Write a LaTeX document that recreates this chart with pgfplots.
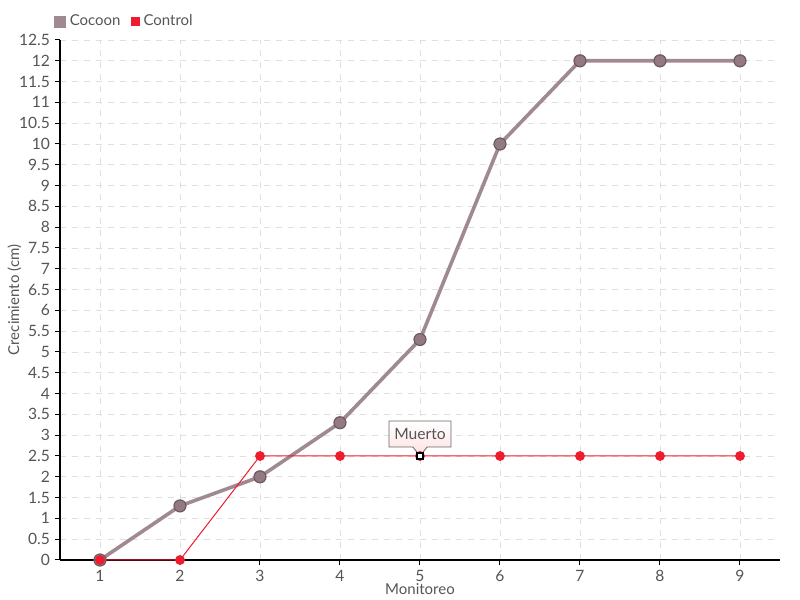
\documentclass[border=0pt]{standalone}
\usepackage{pgfplots}
\pgfplotsset{compat=1.18}
\usepackage{fontspec}
\setmainfont{Lato}
\usetikzlibrary{shapes.callouts,shadings}
\definecolor{coc}{HTML}{A08A90}
\definecolor{cocm}{HTML}{927A80}
\definecolor{cocd}{HTML}{6E5A60}
\definecolor{ctl}{HTML}{EE1C2E}
\definecolor{txt}{HTML}{555555}
\begin{document}
\begin{tikzpicture}
\path[use as bounding box] (-30pt,-20pt) rectangle (370pt,280pt);
\begin{axis}[
  scale only axis,
  width=360pt, height=260pt,
  xmin=0.5, xmax=9.5, ymin=0, ymax=12.5,
  xtick={1,...,9},
  ytick={0,0.5,...,12.5},
  yticklabels={0,0.5,1,1.5,2,2.5,3,3.5,4,4.5,5,5.5,6,6.5,7,7.5,8,8.5,9,9.5,10,10.5,11,11.5,12,12.5},
  axis lines*=left,
  axis line style={black, line width=0.6pt, -},
  tick style={black, line width=0.5pt},
  tick align=outside,
  major tick length=2.5pt,
  grid=major,
  grid style={dashed, gray!25, line width=0.4pt},
  tick label style={font=\fontsize{7.8}{9}\selectfont, text=txt},
  /pgf/number format/assume math mode=true,
  xlabel={Monitoreo},
  ylabel={Crecimiento (cm)},
  label style={font=\fontsize{7.5}{8}\selectfont, text=txt},
  xlabel style={yshift=6pt},
  ylabel style={yshift=-8pt},
  xticklabel style={yshift=1pt},
  yticklabel style={xshift=1pt},
  legend style={at={(-0.017,1.035)}, anchor=west, draw=none, fill=none,
    font=\fontsize{7.5}{8}\selectfont, text=txt, legend columns=2,
    /tikz/every even column/.append style={column sep=3pt}},
  legend image code/.code={\fill[#1] (0pt,-2pt) rectangle (4pt,2pt);},
  legend cell align=left,
  clip=false,
]
\addplot[coc, line width=1.8pt, mark=*, mark size=3pt,
  mark options={fill=cocm, draw=cocd, line width=0.6pt}]
  coordinates {(1,0) (2,1.3) (3,2.0) (4,3.3) (5,5.3) (6,10) (7,12) (8,12) (9,12)};
\addlegendentry{Cocoon}
\addplot[ctl, line width=0.5pt, mark=*, mark size=2.2pt,
  mark options={fill=ctl, draw=ctl}]
  coordinates {(1,0) (2,0) (3,2.5) (4,2.5) (5,2.5) (6,2.5) (7,2.5) (8,2.5) (9,2.5)};
\addlegendentry{Control}
\addplot[draw=none, mark=square*, mark size=1.5pt,
  mark options={fill=white, draw=black, line width=0.6pt}, forget plot]
  coordinates {(5,2.5)};
\node[rectangle callout, draw=gray!80!black, line width=0.4pt,
  top color=white, bottom color=red!12, callout absolute pointer={(axis cs:5,2.5)},
  minimum width=31pt, minimum height=13pt, inner sep=2pt,
  font=\fontsize{7.8}{8}\selectfont, text=txt] at ([yshift=11pt]axis cs:5,2.5) {Muerto};
\end{axis}
\end{tikzpicture}
\end{document}
